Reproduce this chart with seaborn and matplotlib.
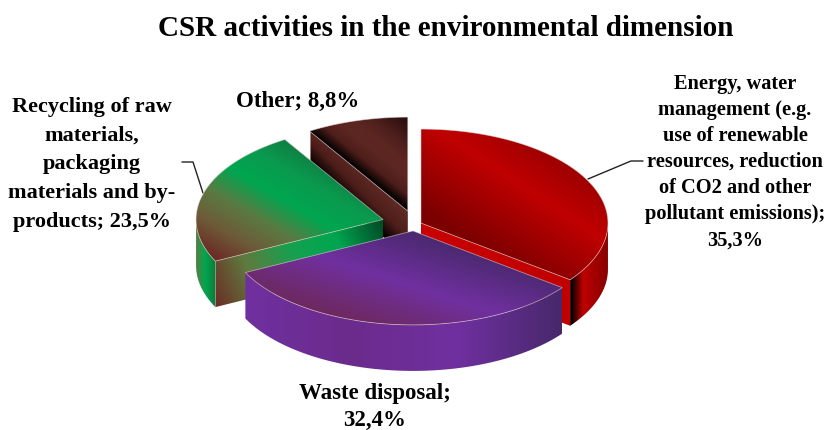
import numpy as np
import pandas as pd
import seaborn as sns
import matplotlib
matplotlib.use("Agg")
import matplotlib.pyplot as plt
from matplotlib.patches import Polygon

# Survey shares
categories = ["Energy, water management", "Waste disposal", "Recycling", "Other"]
shares = [35.3, 32.4, 23.5, 8.8]
slice_labels = [
    "Energy, water\nmanagement (e.g.\nuse of renewable\nresources, reduction\nof CO2 and other\npollutant emissions);\n35,3%",
    "Waste disposal;\n32,4%",
    "Recycling of raw\nmaterials,\npackaging\nmaterials and by-\nproducts; 23,5%",
    "Other; 8,8%",
]
title_text = "CSR activities in the environmental dimension"

# Pie geometry, in pixels
CENTRE = (413.8, 225.5)
RX, RY, DEPTH = 187, 94, 46
EXPLODE_Y = 0.68
explode = [8, 8, 32, 22]

# Gradient ramps: (start offset, end offset, colours), offsets relative to the slice apex
top_style = [
    ((13, -6), (95, -131), ["#7c0000", "#c00000", "#840000"]),
    ((-51, 99), (-16, -10), ["#6d2858", "#7030a0", "#47286b"]),
    ((-183, 31), (-111, -92), ["#6b2a25", "#6e5a38", "#5a7a42", "#00a650", "#0a9a4e", "#0f7a42"]),
    ((0, 0), (46, -57), ["#000000", "#4e1e1b", "#5c2621", "#5c2621", "#4f201d", "#3a1614", "#250c0d"]),
]
wall_style = [
    ((150, 0), (187, 0), ["#000000", "#c00000", "#a00000", "#8a0000"]),
    ((-170, 0), (150, 0), ["#7030a0", "#6b2b8c", "#7030a0", "#47286b"]),
    ((-188, 0), (-168, 0), ["#5f7a3f", "#00a650", "#0e7a3a"]),
    None,
]
edge_style = [
    ((0, 0), (150, 0), ["#c80000", "#c00000"]),
    None,
    ((-170, 85), (0, 10), ["#6b2a25", "#5f7a3f", "#17a04f", "#00a650", "#004f28"]),
    ((-80, -30), (-58, -52), ["#000000", "#4e1e1b", "#5e2823"]),
]
draw_order = [3, 0, 2, 1]

sns.set_theme(style="white")
plt.rcParams["font.family"] = ["Liberation Serif", "DejaVu Serif"]

frame = pd.DataFrame({"category": categories, "share": shares})
frame["stop"] = frame["share"].cumsum() / frame["share"].sum() * 360
frame["start"] = frame["stop"].shift(fill_value=0.0)

fig = plt.figure(figsize=(8.27, 4.30), dpi=100, facecolor="white")
ax = fig.add_axes([0, 0, 1, 1])


def rim(apex, a, b, drop=0, n=120):
    """Ellipse points from angle a to b, clockwise from twelve o'clock."""
    t = np.radians(np.linspace(a, b, n))
    return np.column_stack([apex[0] + RX * np.sin(t), apex[1] - RY * np.cos(t) + drop])


def paint(points, style, zorder):
    """Fill a polygon with a linear colour ramp running along the given offsets."""
    p0, p1, colours = style
    p0, p1 = np.array(p0, float), np.array(p1, float)
    x0, y0 = points.min(axis=0)
    x1, y1 = points.max(axis=0)
    xs = np.linspace(x0, x1, max(int(x1 - x0) * 2, 2))
    ys = np.linspace(y0, y1, max(int(y1 - y0) * 2, 2))
    xx, yy = np.meshgrid(xs, ys)
    axis = p1 - p0
    ramp = ((xx - p0[0]) * axis[0] + (yy - p0[1]) * axis[1]) / axis.dot(axis)
    cmap = sns.blend_palette(colours, n_colors=256, as_cmap=True)
    image = ax.imshow(np.clip(ramp, 0, 1), cmap=cmap, vmin=0, vmax=1, extent=(x0, x1, y1, y0),
                      aspect="auto", interpolation="bilinear", zorder=zorder)
    patch = Polygon(points, closed=True, transform=ax.transData, facecolor="none", edgecolor="none")
    ax.add_patch(patch)
    image.set_clip_path(patch)


def shifted(style, apex):
    return (np.add(style[0], apex), np.add(style[1], apex), style[2])


z = 2
for i in draw_order:
    row = frame.iloc[i]
    a, b = row["start"], row["stop"]
    mid = np.radians((a + b) / 2)
    apex = np.array([CENTRE[0] + explode[i] * np.sin(mid),
                     CENTRE[1] - explode[i] * EXPLODE_Y * np.cos(mid)])

    # Cut faces that turn towards the viewer
    for angle, visible in ((a, 180 < a < 360), (b, 0 < b < 180)):
        if visible and edge_style[i] is not None:
            end = rim(apex, angle, angle, n=1)[0]
            face = np.array([apex, end, end + [0, DEPTH], apex + [0, DEPTH]])
            paint(face, shifted(edge_style[i], apex), z)
            ax.plot([end[0], end[0]], [end[1], end[1] + DEPTH], color="#e8c8c8", lw=0.6, alpha=0.7, zorder=z + 0.5)
            z += 1

    # Outer wall, front half only
    lo, hi = max(a, 90), min(b, 270)
    if lo < hi and wall_style[i] is not None:
        wall = np.vstack([rim(apex, lo, hi), rim(apex, hi, lo, DEPTH)])
        paint(wall, shifted(wall_style[i], apex), z)
        z += 1

    # Top face with its pale outline
    top = np.vstack([apex, rim(apex, a, b)])
    paint(top, shifted(top_style[i], apex), z)
    ax.add_patch(Polygon(top, closed=True, facecolor="none", edgecolor="#e6d6d6", lw=0.6, alpha=0.6, zorder=z + 0.5))
    z += 1

# Leader lines
ax.plot([588, 631, 643], [179, 161, 161], color="#222222", lw=1.0, zorder=1)
ax.plot([203, 193, 182], [193, 162, 162], color="#222222", lw=1.0, zorder=1)

text_style = dict(ha="center", va="center", fontweight="bold", color="black", zorder=50)
ax.text(446, 29, title_text, fontsize=21, **text_style)
ax.text(735, 162, slice_labels[0], fontsize=14.7, linespacing=1.41, **text_style)
ax.text(375, 407, slice_labels[1], fontsize=16.5, linespacing=1.40, **text_style)
ax.text(92, 164.5, slice_labels[2], fontsize=16, linespacing=1.57, **text_style)
ax.text(298, 101, slice_labels[3], fontsize=16.5, **text_style)

ax.set_xlim(0, 827)
ax.set_ylim(430, 0)
ax.axis("off")
fig.savefig("out.png", dpi=100, facecolor="white")
